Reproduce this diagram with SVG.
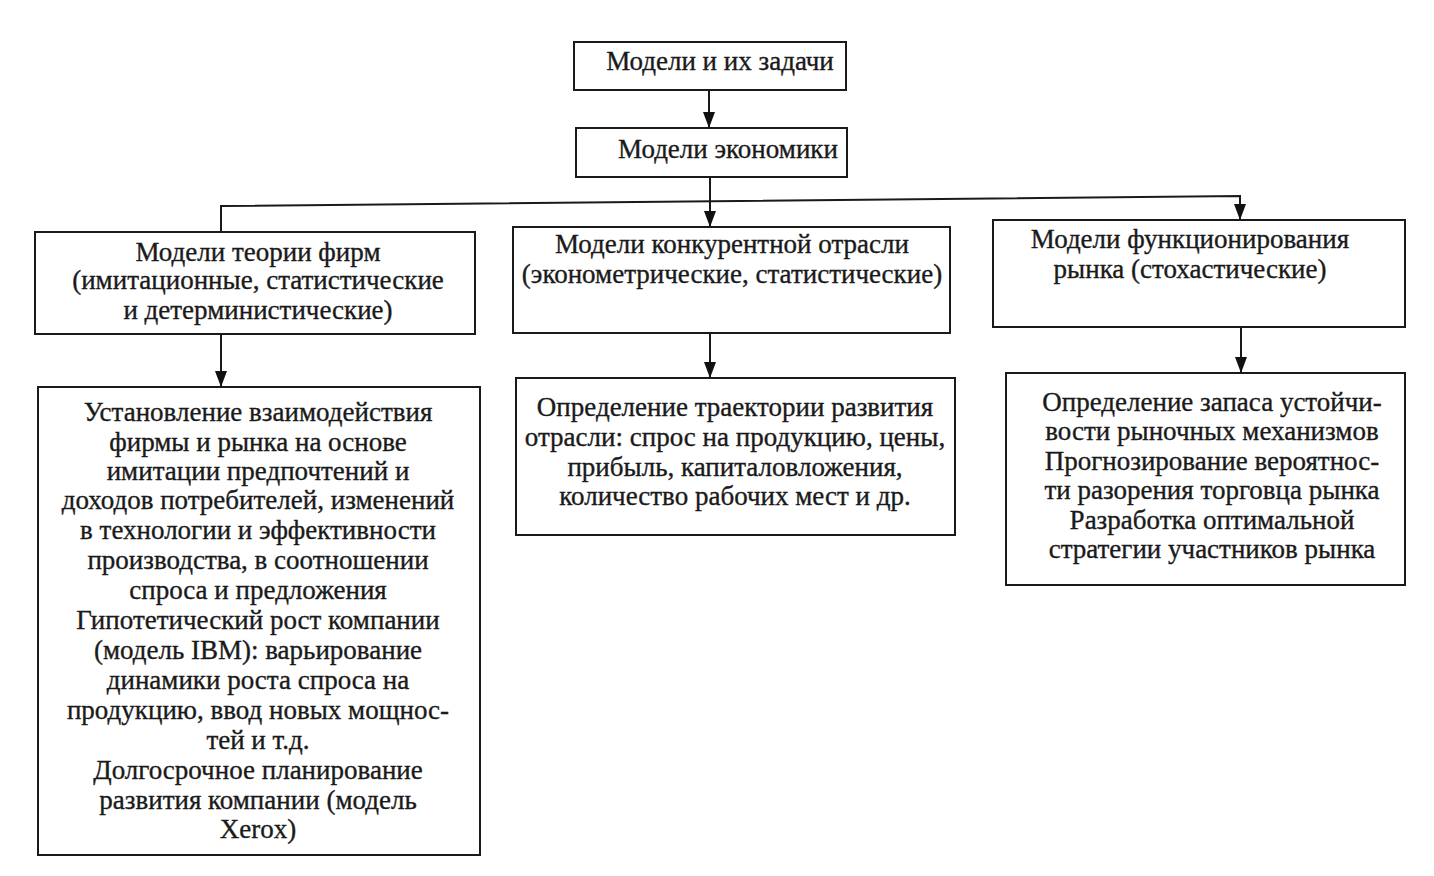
<svg xmlns="http://www.w3.org/2000/svg" width="1434" height="876" viewBox="0 0 1434 876">
<defs>
<marker id="ah" markerWidth="16" markerHeight="12" refX="16" refY="6" orient="auto" markerUnits="userSpaceOnUse" viewBox="0 0 16 12">
<path d="M0,0 L16,6 L0,12 Z" fill="#111"/>
</marker>
</defs>
<style>
rect.box{fill:#fff;stroke:#1a1a1a;stroke-width:2}
text{font-family:"Liberation Serif","Times New Roman",serif;font-size:27px;fill:#1a1a1a;stroke:#1a1a1a;stroke-width:0.35;text-anchor:middle}
.conn line,.conn polyline{stroke:#1a1a1a;stroke-width:2;fill:none}
</style>
<rect width="1434" height="876" fill="#fff"/>
<g class="conn" id="connectors">
<line x1="709" y1="90" x2="709" y2="128" marker-end="url(#ah)"/>
<line x1="710" y1="177" x2="710" y2="227" marker-end="url(#ah)"/>
<polyline points="221,233 221,206 1240,196 1240,220" marker-end="url(#ah)"/>
<line x1="221" y1="334" x2="221" y2="387" marker-end="url(#ah)"/>
<line x1="710" y1="333" x2="710" y2="378" marker-end="url(#ah)"/>
<line x1="1241" y1="327" x2="1241" y2="373" marker-end="url(#ah)"/>
</g>
<g id="n1"><rect class="box" x="574" y="42" width="272" height="48"/>
<text x="720" y="70">Модели и их задачи</text></g>
<g id="n2"><rect class="box" x="576" y="128" width="271" height="49"/>
<text x="728" y="158">Модели экономики</text></g>
<g id="nA"><rect class="box" x="35" y="232" width="440" height="102"/>
<text x="258" y="261">Модели теории фирм</text>
<text x="258" y="289">(имитационные, статистические</text>
<text x="258" y="319">и детерминистические)</text></g>
<g id="nB"><rect class="box" x="513" y="227" width="437" height="106"/>
<text x="732" y="253">Модели конкурентной отрасли</text>
<text x="732" y="283">(эконометрические, статистические)</text></g>
<g id="nC"><rect class="box" x="993" y="220" width="412" height="107"/>
<text x="1190" y="248">Модели функционирования</text>
<text x="1190" y="278">рынка (стохастические)</text></g>
<g id="nA2"><rect class="box" x="38" y="387" width="442" height="468"/>
<text x="258" y="421">Установление взаимодействия</text>
<text x="258" y="451">фирмы и рынка  на основе</text>
<text x="258" y="480">имитации предпочтений и</text>
<text x="258" y="509">доходов потребителей, изменений</text>
<text x="258" y="539">в технологии и эффективности</text>
<text x="258" y="569">производства, в соотношении</text>
<text x="258" y="599">спроса и предложения</text>
<text x="258" y="629">Гипотетический рост компании</text>
<text x="258" y="659">(модель IBM): варьирование</text>
<text x="258" y="689">динамики роста спроса на</text>
<text x="258" y="719">продукцию, ввод новых мощнос-</text>
<text x="258" y="749">тей и т.д.</text>
<text x="258" y="779">Долгосрочное планирование</text>
<text x="258" y="809">развития компании (модель</text>
<text x="258" y="838">Xerox)</text></g>
<g id="nB2"><rect class="box" x="516" y="378" width="439" height="157"/>
<text x="735" y="416">Определение траектории развития</text>
<text x="735" y="446">отрасли: спрос на продукцию, цены,</text>
<text x="735" y="476">прибыль, капиталовложения,</text>
<text x="735" y="505">количество рабочих мест и др.</text></g>
<g id="nC2"><rect class="box" x="1006" y="373" width="399" height="212"/>
<text x="1212" y="411">Определение запаса устойчи-</text>
<text x="1212" y="440">вости рыночных механизмов</text>
<text x="1212" y="470">Прогнозирование вероятнос-</text>
<text x="1212" y="499">ти разорения торговца рынка</text>
<text x="1212" y="529">Разработка оптимальной</text>
<text x="1212" y="558">стратегии участников рынка</text></g>
</svg>
